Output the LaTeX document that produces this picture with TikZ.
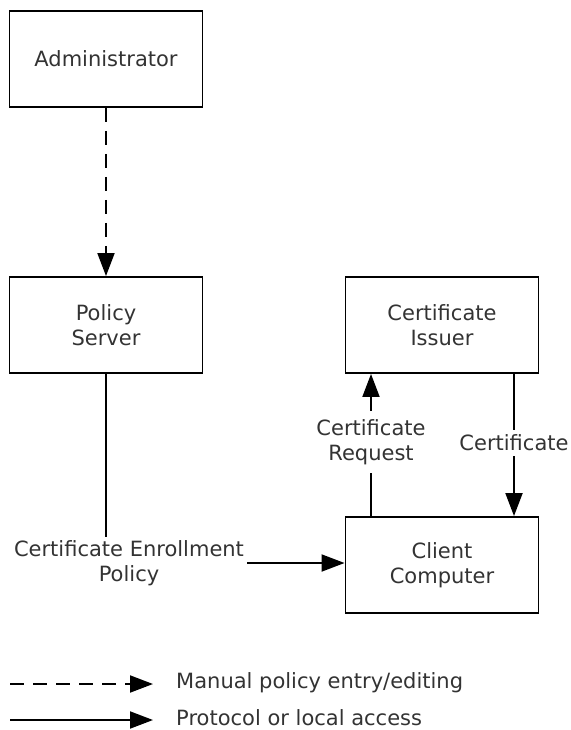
\documentclass[tikz,border=0pt]{standalone}
\usepackage{fontspec}
\setmainfont{DejaVu Sans}
\usetikzlibrary{arrows.meta}

\tikzset{
 box/.style={draw, line width=1.9pt, minimum width=193pt, minimum height=96pt, align=center, text=black!80},
 lbl/.style={align=center, text=black!80, fill=white},
 link/.style={line width=1.9pt, -{Triangle[length=23pt,width=17pt]}},
 manual/.style={link, dash pattern=on 14pt off 9pt}
}

\begin{document}
\begin{tikzpicture}[x=1pt,y=-1pt, font=\fontsize{21}{25}\selectfont]
 \useasboundingbox (0,0) rectangle (570,730);

 \node[box] (admin) at (106,59) {Administrator};
 \node[box] (policy) at (106,325) {Policy\\Server};
 \node[box] (issuer) at (442,325) {Certificate\\Issuer};
 \node[box] (client) at (442,565) {Client\\Computer};

 \draw[manual] (admin) -- (policy);

 \node[lbl, inner sep=3pt] (enroll) at (129,563) {Certificate Enrollment\\Policy};
 \draw[line width=1.9pt] (policy) -- (policy |- enroll.north);
 \draw[link] (enroll.east) -- (client.west |- enroll.east);

 \node[lbl, inner ysep=8pt] (request) at (371,442) {Certificate\\Request};
 \draw[line width=1.9pt] (client.north -| request) -- (request);
 \draw[link] (request) -- (issuer.south -| request);

 \node[lbl, inner ysep=5pt, inner xsep=1pt] (cert) at (514,443) {Certificate};
 \draw[line width=1.9pt] (issuer.south -| cert) -- (cert);
 \draw[link] (cert) -- (client.north -| cert);

 % legend
 \coordinate (manualstart) at (10,684);
 \coordinate (manualend) at (153,684);
 \coordinate (protostart) at (10,720);
 \coordinate (protoend) at (153,720);
 \draw[manual] (manualstart) -- (manualend);
 \draw[link] (protostart) -- (protoend);
 \node[anchor=west, text=black!80, inner sep=0pt] (manualtxt) at (176,683) {Manual policy entry/editing};
 \node[anchor=west, text=black!80, inner sep=0pt] (prototxt) at (176,718) {Protocol or local access};
\end{tikzpicture}
\end{document}
